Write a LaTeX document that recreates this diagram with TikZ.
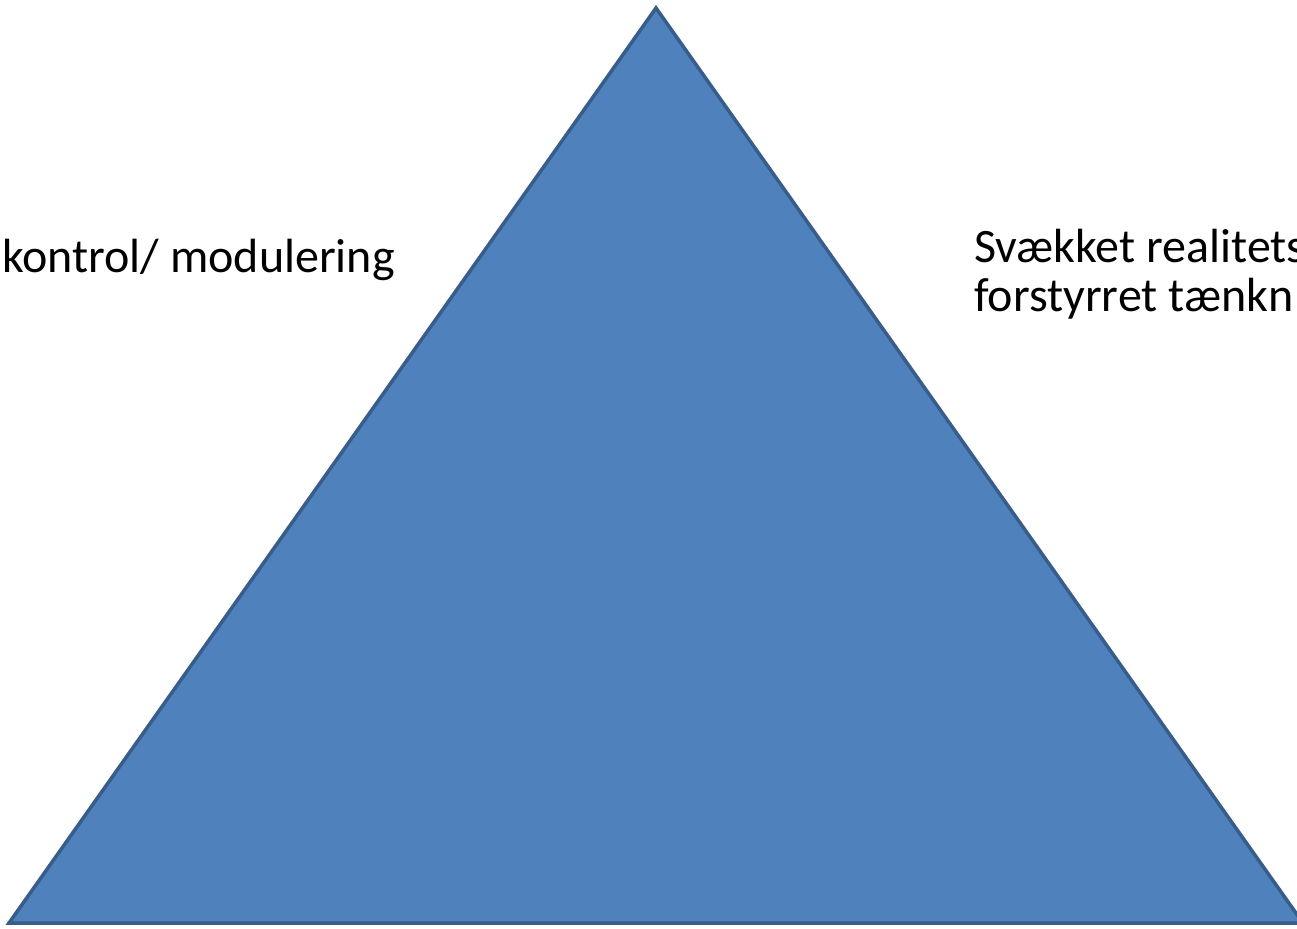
\documentclass[tikz,border=0pt]{standalone}
\usepackage{fontspec}
\setmainfont{Carlito}
\usetikzlibrary{calc}

\definecolor{trifill}{HTML}{4F81BD}
\definecolor{triline}{HTML}{385D8A}

\begin{document}
\begin{tikzpicture}[
  x=1pt,y=-1pt,
  tri/.style={draw=triline,fill=trifill,line width=3.5pt,line join=miter},
  lbl/.style={anchor=base west,inner sep=0pt,font=\fontsize{48}{58}\selectfont}
]

\useasboundingbox (0,0) rectangle (1297,928);
\clip (0,0) rectangle (1297,928);

\coordinate (apex) at (656,8);
\coordinate (bl) at (9,923);
\coordinate (br) at (1303,923);
\draw[tri] (apex) -- (bl) -- (br) -- cycle;

\node[lbl] (kontrol) at (2,272) {kontrol/ modulering};
\node[lbl] (realitet) at (974,262) {Svækket realitets};
\node[lbl] (taenk) at (974,311) {forstyrret tænkn};

\end{tikzpicture}
\end{document}
